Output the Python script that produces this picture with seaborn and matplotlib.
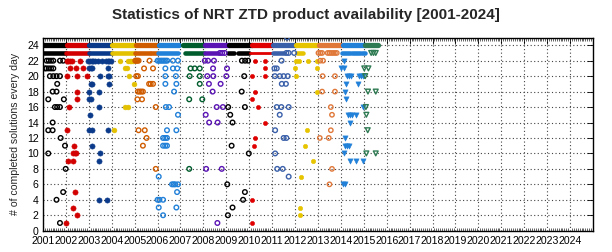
import matplotlib
matplotlib.use("Agg")
import matplotlib.pyplot as plt
import seaborn as sns
import pandas as pd
from matplotlib.ticker import MultipleLocator

# ---------------- data ----------------
YEAR_TICKS = list(range(2001, 2025))
Y_TICKS = list(range(0, 25, 2))

# Dense rows at 24 and 23 solutions/day: (start, end, year)
BAND24 = [(2001.00, 2002.05, 2001), (2002.05, 2003.00, 2002), (2003.00, 2004.00, 2003),
          (2004.00, 2005.06, 2004), (2005.06, 2006.05, 2005), (2006.05, 2006.93, 2006),
          (2007.11, 2008.05, 2007), (2008.05, 2009.10, 2008), (2009.10, 2010.10, 2009),
          (2010.10, 2011.04, 2010), (2011.04, 2012.06, 2011), (2012.06, 2013.03, 2012),
          (2013.03, 2014.07, 2013), (2014.07, 2015.07, 2014), (2015.07, 2015.60, 2015)]
BAND23 = [(2001.00, 2002.00, 2001), (2002.00, 2003.00, 2002), (2003.00, 2004.00, 2003),
          (2004.00, 2005.00, 2004), (2005.00, 2005.65, 2005), (2005.72, 2005.97, 2005),
          (2006.02, 2006.90, 2006), (2007.18, 2008.03, 2007), (2008.05, 2008.64, 2008),
          (2009.07, 2009.32, 2009), (2009.52, 2009.98, 2009), (2010.02, 2011.00, 2010),
          (2011.02, 2011.52, 2011), (2012.08, 2012.35, 2012), (2014.05, 2014.38, 2014),
          (2014.50, 2014.82, 2014), (2014.93, 2015.03, 2014)]

P2001 = [(2001.16, 22), (2001.25, 22), (2001.35, 22), (2001.45, 22), (2001.74, 22), (2001.88, 22),
         (2001.08, 21), (2001.15, 21), (2001.25, 21), (2001.35, 21), (2001.45, 21),
         (2001.30, 20), (2001.45, 20), (2001.59, 20), (2001.74, 20), (2001.62, 19),
         (2001.42, 18), (2001.59, 18), (2001.23, 17), (2001.91, 17),
         (2001.52, 16), (2001.62, 16), (2001.74, 16), (2001.42, 14), (2001.23, 13), (2001.42, 13),
         (2001.77, 12), (2001.96, 11), (2001.23, 10), (2001.99, 8), (2001.88, 5), (2001.59, 4),
         (2001.74, 1)]
P2002 = [(2002.03, 22), (2002.10, 22), (2002.18, 22), (2002.25, 22), (2002.61, 22),
         (2002.17, 21), (2002.44, 21), (2002.73, 21), (2002.03, 20), (2002.47, 20), (2002.90, 20),
         (2002.47, 18), (2002.47, 17), (2002.13, 16), (2002.03, 13), (2002.35, 11),
         (2002.32, 10), (2002.38, 10), (2002.44, 10), (2002.10, 9), (2002.32, 9),
         (2002.39, 5), (2002.32, 3), (2002.47, 2), (2002.00, 1)]
P2003 = [(2002.98, 22), (2003.05, 22), (2003.12, 22), (2003.19, 22), (2003.27, 22), (2003.41, 22),
         (2003.56, 22), (2003.75, 22), (2003.82, 22), (2003.88, 22), (2003.95, 22),
         (2003.02, 21), (2003.09, 21), (2003.15, 21), (2003.85, 21),
         (2003.48, 20), (2003.85, 20), (2003.90, 20), (2003.10, 19), (2003.15, 19), (2003.88, 19),
         (2003.02, 18), (2003.46, 18), (2003.02, 17), (2003.10, 17), (2003.46, 16), (2003.05, 15),
         (2003.02, 13), (2003.15, 13), (2003.85, 13), (2003.15, 11), (2003.48, 10), (2003.46, 9),
         (2003.46, 4), (2003.80, 4)]
P2004 = [(2004.37, 22), (2004.71, 22), (2004.78, 22), (2004.85, 22), (2004.93, 22),
         (2004.56, 21), (2004.68, 21), (2004.74, 20), (2004.97, 19),
         (2004.56, 16), (2004.71, 16), (2004.10, 13)]
P2005 = [(2005.03, 22), (2005.07, 22), (2005.12, 22), (2005.17, 22), (2005.65, 22),
         (2005.41, 21), (2005.80, 21), (2005.07, 20), (2005.14, 20),
         (2005.63, 19), (2005.70, 19), (2005.80, 19),
         (2005.14, 18), (2005.22, 18), (2005.29, 18), (2005.36, 18), (2005.12, 17), (2005.32, 17),
         (2005.92, 16), (2005.17, 13), (2005.44, 13), (2005.52, 12), (2005.36, 11), (2005.92, 8)]
P2006 = [(2006.00, 22), (2006.07, 22), (2006.14, 22), (2006.21, 22), (2006.28, 22), (2006.35, 22),
         (2006.42, 22), (2006.67, 22), (2006.89, 22), (2006.34, 21), (2006.67, 21), (2006.86, 21),
         (2006.34, 20), (2006.80, 20), (2006.34, 19), (2006.82, 19), (2006.72, 18),
         (2006.36, 16), (2006.50, 16), (2006.89, 15), (2006.41, 13), (2006.82, 13),
         (2006.24, 12), (2006.33, 12), (2006.41, 12), (2006.24, 11), (2006.33, 11), (2006.41, 11),
         (2006.05, 7), (2006.63, 6), (2006.70, 6), (2006.77, 6), (2006.89, 6), (2006.85, 5),
         (2006.00, 4), (2006.08, 4), (2006.24, 4), (2006.05, 3), (2006.82, 3), (2006.24, 2)]
P2007 = [(2007.44, 21), (2007.62, 21), (2007.84, 21), (2007.40, 20), (2007.84, 20),
         (2007.84, 19), (2007.38, 17), (2007.95, 17), (2007.38, 8)]
P2008 = [(2008.06, 22), (2008.20, 22), (2008.46, 22), (2008.42, 21), (2009.03, 21),
         (2008.17, 20), (2008.43, 20), (2009.00, 20), (2008.24, 19), (2008.75, 19), (2008.40, 18),
         (2008.58, 16), (2008.85, 16), (2008.10, 15), (2008.25, 14), (2008.62, 14),
         (2008.12, 8), (2008.80, 8), (2008.61, 1),
         (2008.72, 23), (2008.82, 23), (2008.93, 23)]
P2009 = [(2009.68, 22), (2009.82, 22), (2009.95, 22), (2009.78, 20), (2009.67, 18),
         (2009.08, 16), (2009.81, 16), (2009.17, 15), (2009.27, 14), (2009.23, 11), (2009.98, 10),
         (2009.04, 6), (2009.81, 5), (2009.73, 4), (2009.27, 3), (2009.07, 2)]
P2010 = [(2010.25, 22), (2010.69, 22), (2010.69, 21), (2010.10, 20), (2010.69, 20),
         (2010.26, 18), (2010.11, 17), (2010.37, 16), (2010.69, 14), (2010.24, 12), (2010.21, 11),
         (2010.11, 4), (2010.11, 1)]
P2011 = [(2011.41, 22), (2011.10, 21), (2011.20, 21),
         (2011.12, 20), (2011.33, 20), (2011.50, 20), (2011.68, 20), (2011.42, 19), (2011.60, 19),
         (2011.20, 16), (2011.40, 16), (2011.72, 16), (2011.33, 15), (2011.13, 13),
         (2011.50, 12), (2011.62, 12), (2011.13, 10), (2011.22, 8), (2011.46, 8), (2011.72, 7),
         (2011.65, 25), (2011.62, 23), (2011.72, 23), (2011.96, 23)]
P2012 = [(2012.06, 22), (2012.18, 22), (2012.57, 22), (2012.96, 22), (2011.99, 21), (2012.95, 21),
         (2012.05, 20), (2012.96, 18), (2012.53, 13), (2012.43, 11), (2012.78, 9), (2012.25, 7),
         (2012.21, 3), (2012.21, 2)]
P2013 = [(2013.10, 22), (2013.22, 22), (2013.20, 20), (2013.74, 20), (2013.18, 18), (2013.74, 18),
         (2013.56, 16), (2013.61, 15), (2013.56, 13), (2013.08, 12), (2013.47, 12), (2013.61, 8),
         (2013.50, 6),
         (2013.02, 23), (2013.10, 23), (2013.18, 23), (2013.42, 23), (2013.50, 23), (2013.58, 23),
         (2013.66, 23), (2013.74, 23), (2013.82, 23)]
P2014 = [(2014.15, 22), (2014.00, 21), (2014.14, 21),
         (2014.26, 20), (2014.35, 20), (2014.45, 20), (2014.80, 20), (2014.88, 20), (2014.96, 20),
         (2014.24, 19), (2014.75, 19), (2014.17, 18), (2014.21, 17), (2014.96, 16),
         (2014.30, 15), (2014.40, 15), (2014.47, 15), (2014.65, 15), (2014.38, 14), (2014.16, 12),
         (2014.17, 11), (2014.26, 11), (2014.35, 11), (2014.12, 10),
         (2014.38, 9), (2014.66, 9), (2014.96, 9), (2014.10, 6), (2014.18, 6)]
P2015 = [(2015.02, 21), (2015.20, 21), (2015.06, 20), (2015.18, 18), (2015.52, 18),
         (2015.09, 16), (2015.11, 15), (2015.17, 13), (2015.11, 10), (2015.52, 10),
         (2015.32, 23), (2015.42, 23), (2015.52, 23)]

POINTS = {2001: P2001, 2002: P2002, 2003: P2003, 2004: P2004, 2005: P2005, 2006: P2006,
          2007: P2007, 2008: P2008, 2009: P2009, 2010: P2010, 2011: P2011, 2012: P2012,
          2013: P2013, 2014: P2014, 2015: P2015}

# ---------------- styles ----------------
COLORS = {2001: '#000000', 2002: '#d20000', 2003: '#0b3a8a', 2004: '#e3c000', 2005: '#d05c00',
          2006: '#2180d8', 2007: '#005c2c', 2008: '#5a14b4', 2009: '#000000', 2010: '#e00000',
          2011: '#3a60aa', 2012: '#e6c400', 2013: '#e0783a', 2014: '#2180d8', 2015: '#2e7a52'}
# (marker, filled, size)
STYLE = {2001: ('o', False, 11), 2002: ('o', True, 14), 2003: ('o', True, 14),
         2004: ('o', True, 12), 2005: ('o', False, 11), 2006: ('o', False, 11),
         2007: ('o', False, 11), 2008: ('o', False, 11), 2009: ('o', False, 11),
         2010: ('o', True, 9), 2011: ('o', False, 11), 2012: ('o', True, 10),
         2013: ('o', False, 10), 2014: ('v', True, 14), 2015: ('v', False, 12)}

sns.set_theme(style="white")
plt.rcParams['font.family'] = ['Liberation Sans', 'DejaVu Sans']

fig = plt.figure(figsize=(6.12, 2.52), dpi=100)
ax = fig.add_axes([43 / 612, (252 - 230.7) / 252, 550 / 612, (230.7 - 37.5) / 252])

for s, e, yr in BAND24:
    sns.lineplot(x=[s, e], y=[24, 24], color=COLORS[yr], lw=3.8, solid_capstyle='round',
                 estimator=None, sort=False, legend=False, ax=ax, zorder=3)
for s, e, yr in BAND23:
    lw = 2.0 if yr == 2010 else 3.3
    sns.lineplot(x=[s, e], y=[23, 23], color=COLORS[yr], lw=lw, solid_capstyle='round',
                 estimator=None, sort=False, legend=False, ax=ax, zorder=3)

for yr, pts in POINTS.items():
    df = pd.DataFrame(pts, columns=['x', 'y'])
    mk, filled, size = STYLE[yr]
    c = COLORS[yr]
    sns.scatterplot(data=df, x='x', y='y', marker=mk, s=size, color=c,
                    facecolor=(c if filled else 'none'), edgecolor=c,
                    linewidth=(0.4 if filled else 1.0), legend=False, ax=ax, zorder=4)

ax.set_xlim(2001, 2025)
ax.set_ylim(0, 25)
ax.set_xticks(YEAR_TICKS)
ax.set_xticklabels([str(y) for y in YEAR_TICKS])
ax.set_yticks(Y_TICKS)
ax.set_yticklabels([str(y) for y in Y_TICKS])
ax.xaxis.set_minor_locator(MultipleLocator(1 / 12))
ax.tick_params(axis='both', which='major', direction='in', top=True, right=True,
               length=4, width=0.6, labelsize=7.6, colors='black')
ax.tick_params(axis='x', which='major', pad=4)
ax.tick_params(axis='y', which='major', pad=3)
ax.tick_params(axis='x', which='minor', direction='in', top=True, bottom=True,
               length=2, width=0.5)
ax.grid(True, which='major', color='#444444', linestyle=(0, (1, 2.2)), linewidth=0.8)
ax.set_axisbelow(True)
for sp in ax.spines.values():
    sp.set_color('black')
    sp.set_linewidth(1.0)

ax.set_xlabel('')
ax.set_ylabel('# of completed solutions every day', fontsize=7.6, labelpad=5)
fig.text(0.5, 1 - 15 / 252, 'Statistics of NRT ZTD product availability [2001-2024]',
         ha='center', va='center', fontsize=11, fontweight='bold')

fig.savefig('out.png', dpi=100)
